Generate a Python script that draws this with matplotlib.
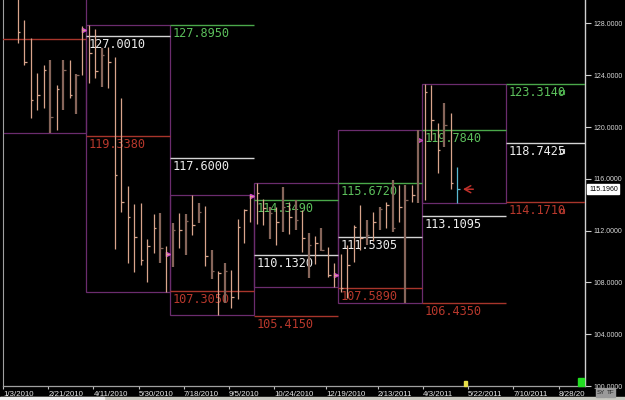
import numpy as np
import pandas as pd
import matplotlib
matplotlib.use('Agg')
import matplotlib.pyplot as plt
from matplotlib import font_manager
from matplotlib.patches import Rectangle
from matplotlib.ticker import FormatStrFormatter
from matplotlib.transforms import Bbox

# ---------------- data ----------------
first_week = '2010-01-17'          # week of the first visible weekly bar
highs = [130.60, 128.26, 126.87, 124.17, 124.79, 125.17, 123.24, 125.17, 125.17, 124.09, 127.80,
         127.90, 127.57, 126.10, 126.18, 125.41, 122.24, 115.44, 114.05, 114.13, 111.35, 113.28, 113.36, 110.81,
         112.59, 113.36, 113.28, 114.75, 114.13, 113.90, 110.50, 108.88, 109.50, 108.96, 112.90, 113.67, 114.75,
         115.67, 114.44, 113.82, 113.82, 115.37, 114.21, 114.36, 113.59, 111.81, 111.58, 112.20, 110.73, 109.50,
         110.19, 110.89, 112.43, 113.98, 112.82, 113.44, 113.82, 114.21, 115.91, 115.52, 115.52, 115.52, 119.78,
         123.30, 123.24, 120.31, 121.85, 121.08, 116.89]
lows = [126.49, 124.79, 120.69, 121.31, 121.47, 119.54, 119.77, 121.31, 122.24, 121.00, 124.02,
        123.40, 123.78, 123.09, 123.01, 110.58, 113.44, 109.50, 108.80, 109.34, 108.03, 110.27, 109.50, 107.26,
        109.19, 110.66, 110.12, 111.66, 112.59, 109.27, 108.26, 105.48, 106.41, 106.02, 106.72, 111.04, 112.66,
        112.51, 112.43, 111.35, 110.89, 111.89, 111.74, 112.05, 110.35, 108.34, 109.42, 110.42, 108.42, 107.64,
        107.26, 106.80, 109.58, 110.50, 110.89, 111.20, 112.05, 112.20, 111.89, 112.66, 106.44, 114.21, 114.13,
        114.36, 119.00, 116.45, 118.46, 115.21, 114.13]
closes = [127.34, 125.02, 122.08, 122.47, 124.40, 120.77, 122.93, 124.40, 122.47, 124.02, 127.49,
          125.71, 124.32, 125.56, 125.02, 116.29, 114.21, 113.05, 111.51, 109.73, 110.81, 112.20, 110.66, 110.19,
          112.05, 112.05, 112.74, 112.43, 113.44, 110.04, 108.88, 108.73, 108.88, 106.87, 112.28, 113.59, 114.67,
          114.90, 113.75, 113.36, 112.66, 113.82, 113.05, 112.82, 111.43, 110.89, 111.04, 110.50, 108.57, 108.57,
          107.57, 109.34, 112.28, 111.43, 111.66, 112.66, 113.67, 113.98, 112.20, 113.82, 114.36, 114.75, 119.00,
          122.70, 120.54, 118.22, 120.15, 115.68, 115.196]
dark_bar = [0, 0, 0, 0, 0, 1, 0, 1, 0, 1, 0,
            0, 0, 1, 0, 0, 0, 0, 0, 0, 0, 0, 1, 0,
            1, 0, 1, 0, 1, 0, 1, 0, 1, 0, 0, 0, 0,
            0, 0, 1, 0, 1, 0, 1, 0, 1, 0, 1, 0, 0,
            0, 0, 0, 0, 1, 0, 1, 0, 1, 0, 1, 0, 1,
            0, 0, 0, 1, 0, 0]

# quarterly levels (high / pivot / low of a quarter, projected onto the next quarter)
level_quarters = ['2009Q4', '2010Q1', '2010Q2', '2010Q3', '2010Q4', '2011Q1', '2011Q2']
level_high = [np.nan, np.nan, 127.895, 114.349, 115.672, 119.784, 123.314]
level_pivot = [np.nan, 127.001, 117.6, 110.132, 111.5305, 113.1095, 118.7425]
level_low = [126.77, 119.338, 107.305, 105.415, 107.589, 106.435, 114.171]

tick_dates = ['1/3/2010', '2/21/2010', '4/11/2010', '5/30/2010', '7/18/2010', '9/5/2010',
              '10/24/2010', '12/19/2010', '2/13/2011', '4/3/2011', '5/22/2011', '7/10/2011', '8/28/2011']
y_ticks = [100, 104, 108, 112, 116, 120, 124, 128]
current_price = 115.196

# ---------------- fonts ----------------
names = {f.name for f in font_manager.fontManager.ttflist}
if 'Liberation Sans Narrow' in names:
    axis_font, x_size, y_size = 'Liberation Sans Narrow', 6.8, 6.5
else:
    axis_font, x_size, y_size = 'Liberation Sans', 5.7, 5.0
plt.rcParams['font.family'] = [axis_font, 'DejaVu Sans']
level_font = 'DejaVu Sans Mono'

# ---------------- figure ----------------
W, H = 625, 400
fig = plt.figure(figsize=(W / 100, H / 100), dpi=100, facecolor='black')
ax = fig.add_axes([3 / W, (H - 386) / H, (585 - 3) / W, 386 / H])
ax.set_facecolor('black')
px_week, x0_px = 6.47, 4.06
ax.set_xlim((3 - x0_px) / px_week, (585 - x0_px) / px_week)
ax.set_ylim(100, 100 + 386 / 12.95)

base = pd.Timestamp('2010-01-03')
weeks = pd.date_range(first_week, periods=len(highs), freq='7D')
xi = np.array([(d - base).days / 7 for d in weeks])
highs_a, lows_a, closes_a = map(np.array, (highs, lows, closes))


def q_edge(period):
    start = period.start_time
    sunday = start + pd.Timedelta(days=(6 - start.weekday()) % 7)
    return (sunday - base).days / 7 - 0.5


purple = '#6b2c6e'
green_line, white_line, red_line = '#4aa84a', '#d4d4d4', '#a8352b'
green_txt, white_txt, red_txt = '#5cc05c', '#eeeeee', '#b8382c'

# quarter boxes from the bars
quarters = weeks.to_period('Q')
uq = list(dict.fromkeys(quarters))
for k, q in enumerate(uq):
    m = np.array(quarters == q)
    lo, hi = lows_a[m].min(), highs_a[m].max()
    left, right = q_edge(q), q_edge(q + 1)
    ax.add_patch(Rectangle((left, lo), right - left, hi - lo, fill=False, ec=purple, lw=0.9, zorder=2))
    if k < len(uq) - 1:
        last = np.where(m)[0][-1]
        ax.plot(right - 0.25, closes_a[last], marker='>', ms=3, color='#d040d0', zorder=5, clip_on=True)

# projected levels
for k, qs in enumerate(level_quarters):
    q = pd.Period(qs, 'Q')
    x1, x2 = q_edge(q + 1), q_edge(q + 2)
    for val, lc, tc in ((level_high[k], green_line, green_txt),
                        (level_pivot[k], white_line, white_txt),
                        (level_low[k], red_line, red_txt)):
        if np.isnan(val):
            continue
        ax.hlines(val, x1, x2, colors=lc, lw=1.0, zorder=3)
        if k > 0:
            ax.annotate(f'{val:.4f}', xy=(x1, val), xytext=(3, -2), textcoords='offset pixels',
                        ha='left', va='top', color=tc, fontsize=8.6, family=level_font,
                        zorder=4, annotation_clip=True)
        if k == len(level_quarters) - 1:
            ax.plot(86.2, val - 0.62, marker='s', ms=3.5, mfc='none', mec=lc, mew=0.8, zorder=4)

# weekly HLC bars
light_c, dark_c, last_c = '#d9a58c', '#86655a', '#5ab8d0'
cols = [dark_c if d else light_c for d in dark_bar]
cols[-1] = last_c
lws = [1.6 if d else 0.9 for d in dark_bar]
ax.vlines(xi, lows_a, highs_a, colors=cols, linewidths=lws, zorder=6)
ax.hlines(closes_a, xi, xi + 0.4, colors=cols, linewidths=0.9, zorder=6)

# current-price arrow
ax.annotate('', xy=(xi[-1] + 0.9, closes_a[-1]), xytext=(xi[-1] + 2.5, closes_a[-1]),
            arrowprops=dict(arrowstyle='->,head_length=0.45,head_width=0.25', color='#c0302a',
                            lw=1.1, shrinkA=0, shrinkB=0), zorder=7)

# axes styling
ax.spines['top'].set_visible(False)
ax.spines['left'].set_color('#a0a0a0')
ax.spines['left'].set_linewidth(0.8)
ax.spines['right'].set_color('#d0d0d0')
ax.spines['right'].set_linewidth(1.0)
ax.spines['bottom'].set_color('#a0a0a0')
ax.spines['bottom'].set_linewidth(0.9)

ax.yaxis.tick_right()
ax.set_yticks(y_ticks)
ax.yaxis.set_major_formatter(FormatStrFormatter('%.4f'))
ax.tick_params(axis='y', colors='#cfcfcf', labelcolor='#d8d8d8', labelsize=y_size,
               length=4, width=0.8, pad=2)

tick_pos = [(pd.Timestamp(d) - base).days / 7 - 0.3 for d in tick_dates]
ax.set_xticks(tick_pos)
ax.set_xticklabels(tick_dates, ha='left')
ax.tick_params(axis='x', colors='#bdbdbd', labelcolor='#e8e8e8', labelsize=x_size,
               length=2, width=0.8, pad=1.5)
clip = Bbox([[0, 0], [585, H]])
for lbl in ax.get_xticklabels():
    lbl.set_clip_box(clip)
    lbl.set_clip_on(True)

# current price tag
ax.annotate(f'{current_price:.4f}', xy=(1.0, current_price), xycoords=('axes fraction', 'data'),
            xytext=(4, 0), textcoords='offset pixels', ha='left', va='center', color='black',
            fontsize=y_size, bbox=dict(boxstyle='square,pad=0.25', fc='white', ec='white'),
            annotation_clip=False)

# small UI items
def px_rect(x, y, w, h, color, **kw):
    fig.patches.append(Rectangle((x / W, 1 - (y + h) / H), w / W, h / H,
                                 transform=fig.transFigure, color=color, **kw))

px_rect(578, 378, 6, 8, '#22dd22')
px_rect(464, 381, 3, 5, '#e8e04a')
px_rect(0, 397, W, 3, '#c8c8c0')
px_rect(0, 397, 104, 3, '#f0f0f0')
for x, t in ((596, 'SY'), (606, 'TF')):
    px_rect(x, 388, 9, 9, '#9a9a9a')
    fig.text((x + 4.5) / W, 1 - 392.5 / H, t, ha='center', va='center', fontsize=4.5,
             color='#202020', family=axis_font)

fig.savefig('out.png', dpi=100, facecolor='black')
